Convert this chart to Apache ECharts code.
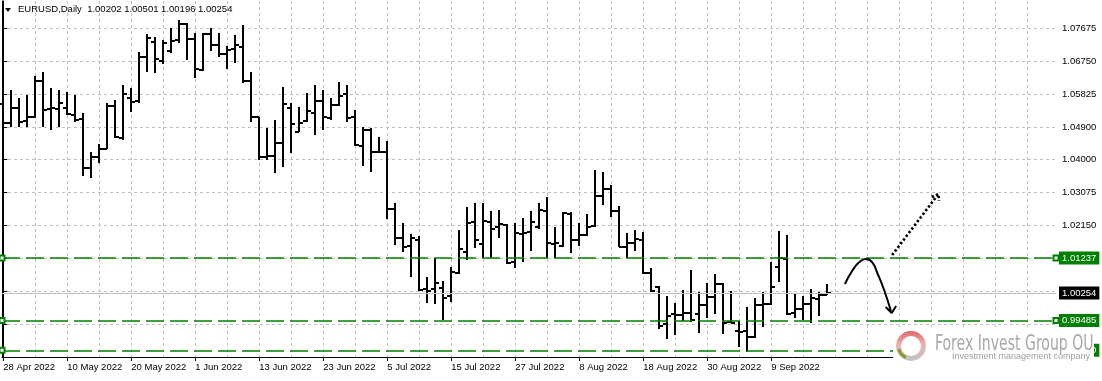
<!DOCTYPE html>
<html><head><meta charset="utf-8">
<script src="https://cdn.jsdelivr.net/npm/echarts@6/dist/echarts.min.js"></script>
<style>html,body{margin:0;padding:0;background:#fff}#c{width:1102px;height:381px}</style>
</head><body><div id="c"></div>
<script>
// ---------------- data ----------------
const symbolName = 'EURUSD,Daily';
const dates = ['28 Apr 2022','29 Apr 2022','2 May 2022','3 May 2022','4 May 2022','5 May 2022','6 May 2022','9 May 2022','10 May 2022','11 May 2022','12 May 2022','13 May 2022','16 May 2022','17 May 2022','18 May 2022','19 May 2022','20 May 2022','23 May 2022','24 May 2022','25 May 2022','26 May 2022','27 May 2022','30 May 2022','31 May 2022','1 Jun 2022','2 Jun 2022','3 Jun 2022','6 Jun 2022','7 Jun 2022','8 Jun 2022','9 Jun 2022','10 Jun 2022','13 Jun 2022','14 Jun 2022','15 Jun 2022','16 Jun 2022','17 Jun 2022','20 Jun 2022','21 Jun 2022','22 Jun 2022','23 Jun 2022','24 Jun 2022','27 Jun 2022','28 Jun 2022','29 Jun 2022','30 Jun 2022','1 Jul 2022','4 Jul 2022','5 Jul 2022','6 Jul 2022','7 Jul 2022','8 Jul 2022','11 Jul 2022','12 Jul 2022','13 Jul 2022','14 Jul 2022','15 Jul 2022','18 Jul 2022','19 Jul 2022','20 Jul 2022','21 Jul 2022','22 Jul 2022','25 Jul 2022','26 Jul 2022','27 Jul 2022','28 Jul 2022','29 Jul 2022','1 Aug 2022','2 Aug 2022','3 Aug 2022','4 Aug 2022','5 Aug 2022','8 Aug 2022','9 Aug 2022','10 Aug 2022','11 Aug 2022','12 Aug 2022','15 Aug 2022','16 Aug 2022','17 Aug 2022','18 Aug 2022','19 Aug 2022','22 Aug 2022','23 Aug 2022','24 Aug 2022','25 Aug 2022','26 Aug 2022','29 Aug 2022','30 Aug 2022','31 Aug 2022','1 Sep 2022','2 Sep 2022','5 Sep 2022','6 Sep 2022','7 Sep 2022','8 Sep 2022','9 Sep 2022','12 Sep 2022','13 Sep 2022','14 Sep 2022','15 Sep 2022','16 Sep 2022','19 Sep 2022','20 Sep 2022'];
const openP = [1.0556,1.0502,1.0544,1.0507,1.0519,1.0619,1.0540,1.0540,1.0544,1.0524,
1.0513,1.0375,1.0405,1.0429,1.0549,1.0459,1.0572,1.0563,1.0687,1.0729,
1.0676,1.0703,1.0734,1.0779,1.0736,1.0650,1.0751,1.0720,1.0695,1.0708,
1.0715,1.0620,1.0517,1.0407,1.0410,1.0445,1.0543,1.0477,1.0508,1.0529,
1.0563,1.0515,1.0552,1.0582,1.0519,1.0438,1.0482,1.0419,1.0421,1.0261,
1.0179,1.0158,1.0174,1.0036,1.0036,1.0039,1.0018,1.0081,1.0139,1.0223,
1.0162,1.0225,1.0211,1.0216,1.0111,1.0190,1.0195,1.0211,1.0255,1.0162,
1.0157,1.0247,1.0174,1.0188,1.0213,1.0297,1.0316,1.0256,1.0155,1.0165,
1.0174,1.0082,1.0041,0.9939,0.9967,0.9964,0.9970,0.9967,0.9992,1.0015,
1.0051,0.9945,0.9920,0.9920,0.9902,0.9992,0.9995,1.0097,1.0120,0.9969,
0.9980,0.9995,1.0008,1.00202];
const highP = [1.0566,1.0594,1.0571,1.0580,1.0634,1.0643,1.0599,1.0594,1.0587,1.0580,
1.0530,1.0421,1.0442,1.0557,1.0566,1.0608,1.0599,1.0701,1.0751,1.0743,
1.0734,1.0767,1.0790,1.0782,1.0753,1.0754,1.0767,1.0753,1.0717,1.0748,
1.0776,1.0645,1.0519,1.0487,1.0510,1.0603,1.0557,1.0547,1.0585,1.0608,
1.0594,1.0571,1.0617,1.0608,1.0538,1.0491,1.0487,1.0463,1.0451,1.0277,
1.0221,1.0190,1.0185,1.0071,1.0123,1.0059,1.0099,1.0202,1.0267,1.0277,
1.0277,1.0255,1.0258,1.0220,1.0221,1.0235,1.0255,1.0277,1.0295,1.0209,
1.0253,1.0252,1.0222,1.0247,1.0370,1.0365,1.0328,1.0269,1.0194,1.0202,
1.0197,1.0095,1.0045,1.0017,0.9998,1.0034,1.0090,1.0029,1.0053,1.0079,
1.0053,1.0032,0.9947,0.9987,1.0011,1.0029,1.0113,1.0200,1.0188,1.0023,
1.0017,1.0036,1.0029,1.00501];
const lowP = [1.0473,1.0491,1.0491,1.0491,1.0515,1.0491,1.0482,1.0491,1.0524,1.0505,
1.0354,1.0348,1.0389,1.0428,1.0459,1.0455,1.0533,1.0558,1.0643,1.0642,
1.0667,1.0698,1.0726,1.0678,1.0627,1.0648,1.0704,1.0685,1.0652,1.0670,
1.0613,1.0505,1.0398,1.0398,1.0361,1.0379,1.0417,1.0475,1.0505,1.0468,
1.0482,1.0510,1.0550,1.0503,1.0438,1.0382,1.0365,1.0417,1.0233,1.0160,
1.0141,1.0071,1.0031,0.9997,0.9994,0.9950,1.0001,1.0078,1.0118,1.0152,
1.0124,1.0124,1.0179,1.0106,1.0095,1.0111,1.0143,1.0205,1.0123,1.0123,
1.0155,1.0138,1.0157,1.0185,1.0210,1.0272,1.0237,1.0153,1.0123,1.0144,
1.0079,1.0029,0.9924,0.9896,0.9908,0.9948,0.9945,0.9913,0.9955,0.9967,
0.9911,0.9941,0.9875,0.9861,0.9899,0.9929,0.9992,1.0057,0.9964,0.9955,
0.9950,0.9942,0.9961,1.00196];
const closeP = [1.0502,1.0543,1.0505,1.0519,1.0619,1.0538,1.0543,1.0557,1.0526,1.0510,
1.0375,1.0405,1.0429,1.0549,1.0461,1.0582,1.0559,1.0685,1.0739,1.0680,
1.0726,1.0732,1.0779,1.0736,1.0652,1.0751,1.0720,1.0695,1.0706,1.0720,
1.0620,1.0519,1.0407,1.0410,1.0445,1.0554,1.0498,1.0501,1.0535,1.0563,
1.0519,1.0552,1.0578,1.0516,1.0440,1.0482,1.0419,1.0420,1.0260,1.0179,
1.0155,1.0180,1.0034,1.0031,1.0053,1.0012,1.0083,1.0148,1.0221,1.0174,
1.0228,1.0205,1.0218,1.0109,1.0193,1.0193,1.0225,1.0258,1.0165,1.0165,
1.0249,1.0174,1.0188,1.0211,1.0297,1.0316,1.0256,1.0155,1.0165,1.0176,
1.0081,1.0031,0.9933,0.9961,0.9964,0.9970,0.9950,0.9992,1.0015,1.0051,
0.9942,0.9942,0.9917,0.9902,0.9992,0.9995,1.0041,1.0123,0.9967,0.9980,
0.9995,1.0011,1.0020,1.00254];
const priceTicks  = [1.07675,1.06750,1.05825,1.04900,1.04000,1.03075,1.02150,1.01225,1.00300,0.99375];
const priceLabels = [1.07675,1.06750,1.05825,1.04900,1.04000,1.03075,1.02150];
const levelLines  = [1.01237,0.99485,0.98650];
const lastPrice   = 1.00254;
// hand-drawn annotation paths, in (bar index, price)
const trendCurve = [[105.2,1.00506],[106.1,1.00870],[107.0,1.01122],[107.8,1.01206],[108.6,1.01122],[109.3,1.00786],[110.1,1.00338],[110.95,0.99750]];
const trendCurveHead = [[110.3,0.99862],[111.05,0.99694],[111.6,0.99890]];
const breakoutArrow = [[111.1,1.01318],[116.7,1.02970]];
const breakoutArrowHead = [[116.05,1.02942],[116.9,1.03026],[116.95,1.02830]];

// ---------------- layout ----------------
const FONT = 'Liberation Sans';
const FS = 9.5;
const X_MIN = -0.1625, X_MAX = 131.5875;
const Y_MIN = 0.98462, Y_MAX = 1.08431;
const xGridVals = []; for (let v = 0; v <= X_MAX; v += 4) xGridVals.push(v);
const xLabelVals = []; for (let v = 0; v < dates.length; v += 8) xLabelVals.push(v);
const ohlc = dates.map((d, i) => [i, openP[i], highP[i], lowP[i], closeP[i]]);
const last = dates.length - 1;
const titleText = symbolName + '  ' + [openP[last], highP[last], lowP[last], closeP[last]].map(v => v.toFixed(5)).join(' ');

const greenLine = v => ({
  yAxis: v,
  lineStyle: {color: '#008000', type: [18, 6], width: 1.5},
  label: {show: true, position: 'end', distance: 3, formatter: v.toFixed(5), backgroundColor: '#008000',
          color: '#ffffff', fontFamily: FONT, fontSize: FS, padding: [2, 3, 1, 3]}
});

const chart = echarts.init(document.getElementById('c'), null, {renderer: 'canvas'});
chart.setOption({
  animation: false,
  backgroundColor: '#ffffff',
  grid: {left: 2, right: 46, top: 1, bottom: 24, containLabel: false},
  xAxis: [
    {type: 'value', min: X_MIN, max: X_MAX, position: 'bottom',
     axisLine: {show: false}, axisTick: {show: false, customValues: xGridVals}, axisLabel: {show: false},
     splitLine: {show: true, lineStyle: {color: '#c0c0c0', type: [3, 3], width: 1}}},
    {type: 'value', min: X_MIN, max: X_MAX, position: 'bottom',
     axisLine: {show: true, lineStyle: {color: '#000', width: 1}},
     axisTick: {show: true, customValues: xLabelVals, length: 4, lineStyle: {color: '#000'}},
     axisLabel: {customValues: xLabelVals, formatter: v => dates[Math.round(v)] || '', align: 'left',
                 margin: 5, color: '#000', fontFamily: FONT, fontSize: FS},
     splitLine: {show: false}}
  ],
  yAxis: [
    {type: 'value', position: 'right', min: Y_MIN, max: Y_MAX, scale: true,
     axisLine: {show: true, lineStyle: {color: '#000', width: 1}},
     axisTick: {show: true, customValues: priceTicks, length: 4, lineStyle: {color: '#000'}},
     axisLabel: {customValues: priceLabels, formatter: v => v.toFixed(5), color: '#000',
                 fontFamily: FONT, fontSize: FS, margin: 6},
     splitLine: {show: true, lineStyle: {color: '#c0c0c0', type: [3, 3], width: 1}}},
    {type: 'value', position: 'left', min: Y_MIN, max: Y_MAX, scale: true,
     axisLine: {show: true, onZero: false, lineStyle: {color: '#000', width: 1}},
     axisTick: {show: false}, axisLabel: {show: false}, splitLine: {show: false}}
  ],
  series: [
    {type: 'custom', name: 'EURUSD', xAxisIndex: 0, yAxisIndex: 0, data: ohlc,
     encode: {x: 0, y: [1, 2, 3, 4]}, silent: true, z: 4,
     renderItem: function (params, api) {
       const i = api.value(0);
       const pO = api.coord([i, api.value(1)]);
       const pH = api.coord([i, api.value(2)]);
       const pL = api.coord([i, api.value(3)]);
       const pC = api.coord([i, api.value(4)]);
       const x = Math.round(pO[0]);
       const yo = Math.round(pO[1]), yc = Math.round(pC[1]);
       const st = {stroke: '#000', lineWidth: 2};
       return {type: 'group', children: [
         {type: 'line', shape: {x1: x, y1: Math.round(pH[1]), x2: x, y2: Math.round(pL[1])}, style: st},
         {type: 'line', shape: {x1: x - 4, y1: yo, x2: x, y2: yo}, style: st},
         {type: 'line', shape: {x1: x, y1: yc, x2: x + 4, y2: yc}, style: st}
       ]};
     },
     markLine: {silent: true, animation: false, precision: 5, symbol: ['emptyRect', 'emptyRect'], symbolSize: 5,
                data: levelLines.map(greenLine)}},
    {type: 'line', name: 'price', xAxisIndex: 0, yAxisIndex: 0, data: [], silent: true, z: 3,
     markLine: {silent: true, animation: false, precision: 5, symbol: 'none',
                data: [{yAxis: lastPrice, lineStyle: {color: '#c0c0c0', type: 'solid', width: 1},
                        label: {show: true, position: 'end', distance: 3, formatter: lastPrice.toFixed(5),
                                backgroundColor: '#000', color: '#fff', fontFamily: FONT, fontSize: FS,
                                padding: [2, 3, 1, 3]}}]}},
    {type: 'line', name: 'scenario', data: trendCurve, smooth: 0.5, symbol: 'none', silent: true, z: 6,
     lineStyle: {color: '#000', width: 2}},
    {type: 'line', name: 'scenarioHead', data: trendCurveHead, symbol: 'none', silent: true, z: 6,
     lineStyle: {color: '#000', width: 2}},
    {type: 'line', name: 'breakout', data: breakoutArrow, symbol: 'none', silent: true, z: 6,
     lineStyle: {color: '#000', width: 2.6, type: [2.4, 2.2]}},
    {type: 'line', name: 'breakoutHead', data: breakoutArrowHead, symbol: 'none', silent: true, z: 6,
     lineStyle: {color: '#000', width: 2.6, type: [2.4, 2.2]}}
  ],
  graphic: [
    {type: 'polygon', z: 100, shape: {points: [[5, 8], [11, 8], [8, 12]]}, style: {fill: '#000'}},
    {type: 'text', z: 100, left: 18, top: 4, style: {text: titleText, fill: '#000', font: FS + 'px ' + FONT}},
    {type: 'group', z: 100, children: [
      {type: 'rect', z: 100, shape: {x: 893, y: 327, width: 201, height: 54}, style: {fill: '#fff'}},
      {type: 'ring', z: 101, shape: {cx: 911, cy: 346, r: 15, r0: 10},
       style: {fill: {type: 'linear', x: 0, y: 0, x2: 0, y2: 1,
               colorStops: [{offset: 0, color: '#e06666'}, {offset: 0.45, color: '#eab3b3'}, {offset: 1, color: '#c4c4c4'}]}}},
      {type: 'arc', z: 102, shape: {cx: 911, cy: 346, r: 12.5, startAngle: 2.0, endAngle: 2.9},
       style: {stroke: '#7f9d25', lineWidth: 3, fill: null}},
      {type: 'text', z: 101, x: 935, y: 333, scaleX: 0.71,
       style: {text: 'Forex Invest Group OU', fill: '#a8a8a8', font: '22px "Liberation Sans Narrow", "DejaVu Sans Condensed", sans-serif'}},
      {type: 'text', z: 101, x: 952, y: 352,
       style: {text: 'Investment management company', fill: '#a0a0a0', font: '9px ' + FONT}}
    ]}
  ]
});
</script></body></html>
